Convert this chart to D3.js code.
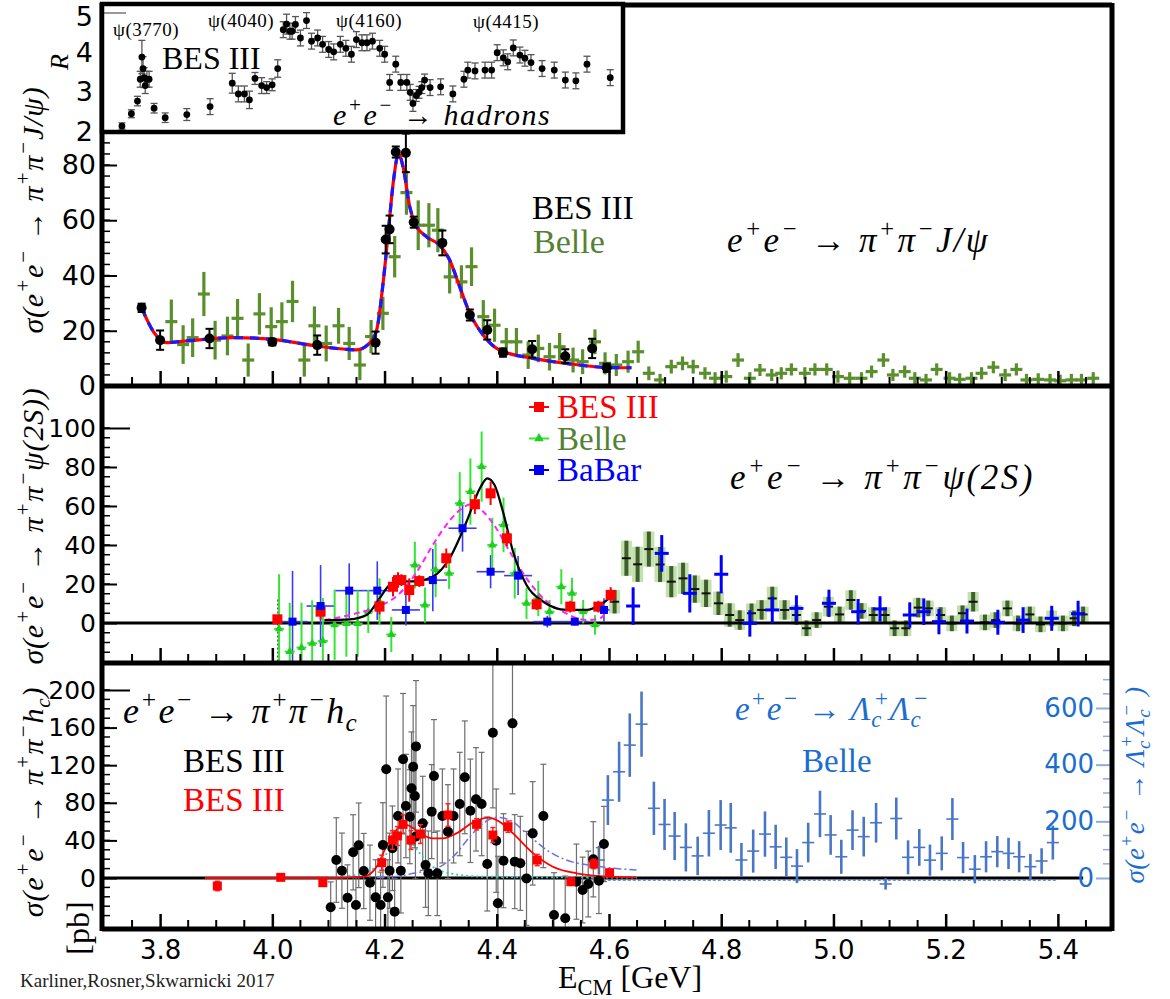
<!DOCTYPE html>
<html>
<head>
<meta charset="utf-8">
<script src="https://cdnjs.cloudflare.com/ajax/libs/d3/7.8.5/d3.min.js"></script>
<style>body{margin:0;background:#fff}</style>
</head>
<body>
<script>
const width = 1170;
const height = 999;

// ---------- data ----------
// inset: R ratio, BES III
const rE = [3.736,3.753,3.764,3.769,3.772,3.774,3.776,3.778,3.781,3.785,
  3.794,3.814,3.853,3.895,3.935,3.946,3.957,3.966,3.976,3.988,
  3.997,4.007,4.017,4.027,4.033,4.039,4.043,4.049,4.058,4.069,
  4.078,4.089,4.098,4.109,4.118,4.130,4.140,4.150,4.159,4.169,
  4.178,4.188,4.201,4.210,4.219,4.230,4.239,4.250,4.256,4.261,
  4.267,4.272,4.277,4.282,4.292,4.311,4.333,4.353,4.360,4.373,
  4.391,4.403,4.413,4.424,4.432,4.442,4.454,4.463,4.474,4.494,
  4.516,4.536,4.555,4.575,4.617];
const rVal = [2.15,2.46,2.78,3.33,3.89,3.60,3.37,3.17,3.33,3.33,
  2.60,2.36,2.44,2.64,3.23,2.96,2.96,2.81,3.35,3.17,
  3.12,3.19,3.60,4.58,4.72,4.54,4.54,4.71,4.37,4.81,
  4.29,4.37,4.21,4.08,4.02,4.21,4.11,3.96,4.33,4.25,
  4.25,4.29,4.11,3.96,3.25,3.71,3.25,3.25,3.00,2.72,
  2.92,3.00,3.12,3.31,3.12,3.14,2.96,3.33,3.56,3.54,
  3.56,3.56,4.00,3.87,3.77,4.12,3.94,3.86,3.75,3.60,
  3.56,3.31,3.29,3.71,3.37];
const rErr = [0.08,0.10,0.12,0.20,0.42,0.30,0.25,0.20,0.20,0.20,
  0.12,0.12,0.15,0.20,0.25,0.20,0.20,0.22,0.15,0.20,
  0.15,0.15,0.22,0.20,0.25,0.20,0.20,0.20,0.20,0.20,
  0.20,0.20,0.20,0.20,0.20,0.20,0.20,0.20,0.20,0.20,
  0.20,0.20,0.20,0.20,0.20,0.20,0.20,0.20,0.20,0.20,
  0.15,0.15,0.15,0.15,0.20,0.20,0.20,0.20,0.20,0.20,
  0.20,0.20,0.20,0.20,0.20,0.20,0.20,0.20,0.20,0.20,
  0.20,0.20,0.20,0.20,0.20];
const resonanceNames = ['ψ(3770)', 'ψ(4040)', 'ψ(4160)', 'ψ(4415)'];
const resonancePos = [[113, 36], [208, 27], [336, 27], [473, 28]];

// panel 1: pi+ pi- J/psi
const jpsiBesE = [3.767,3.800,3.888,4.000,4.080,4.184,4.202,4.209,4.220,4.238,4.252,4.303,4.352,4.383,4.411,4.463,4.522,4.570,4.596];
const jpsiBesS = [28.3,16.6,17.2,15.9,14.8,15.7,53.0,56.7,84.7,84.4,59.3,51.8,25.7,20.3,12.1,13.3,10.8,13.6,6.6];
const jpsiBesErr = [1.5,3.5,3.5,1.2,3.5,4,5,5,2,7,2,4.5,2,3.5,1.5,3,2.5,3.5,1.5];
const jpsiBelleE = [3.820,3.841,3.858,3.878,3.898,3.920,3.938,3.957,3.977,3.998,
  4.017,4.036,4.057,4.075,4.096,4.118,4.137,4.156,4.176,4.197,
  4.218,4.239,4.260,4.279,4.295,4.316,4.337,4.355,4.376,4.396,
  4.417,4.435,4.456,4.474,4.494,4.512,4.536,4.553,4.575,4.593,
  4.613,4.634,4.652,4.671,4.691,4.711,4.731,4.750,4.771,4.789,
  4.809,4.830,4.851,4.869,4.890,4.907,4.925,4.949,4.967,4.988,
  5.008,5.029,5.050,5.068,5.089,5.106,5.127,5.145,5.165,5.184,
  5.207,5.225,5.246,5.264,5.285,5.306,5.326,5.344,5.365,5.386,
  5.404,5.424,5.442,5.463];
const jpsiBelleS = [23.3,15.0,17.5,33.3,16.6,18.1,24.5,9.4,26.1,21.5,
  23.3,30.6,9.4,21.8,15.4,21.8,15.4,7.6,17.9,26.3,
  46.8,70.0,58.2,58.2,56.4,39.5,37.7,43.2,25.1,22.0,
  16.0,16.0,11.2,13.6,10.6,14.2,9.4,8.8,16.0,8.2,
  7.6,8.8,12.4,4.6,2.2,7.0,8.2,7.0,4.6,2.8,
  3.4,9.4,2.8,5.8,4.0,4.6,6.0,4.6,6.0,6.0,
  3.4,2.8,2.8,5.2,9.4,4.0,5.2,2.8,2.2,6.0,
  2.8,2.4,2.8,4.6,6.8,4.0,6.0,2.2,2.4,2.2,
  1.9,2.2,2.2,2.8];
const jpsiBelleErr = [8,7,7,8,7,7,7,6,7.5,7,
  7,7.5,6,7,6.5,6.5,6,5.5,6,6,
  7.5,8,9,8,8,6,6,7,6,6,
  5,5,5,5,5,5,4.5,4.5,4.5,4,
  4,4,4,2.5,2.2,2.5,2.5,2.5,2.2,2.2,
  2.2,2.5,2.2,2.2,2.2,2.2,2.2,2.2,2.2,2.2,
  2.2,2.2,2.2,2.2,2.5,2.2,2.2,2.2,2.2,2.2,
  2.2,2.2,2.2,2.2,2.2,2.2,2.2,2.2,2.2,2.2,
  2.2,2.2,2.2,2.2];
const jpsiFitE = [3.767,3.790,3.811,3.846,3.930,4.000,4.078,4.150,4.174,4.186,4.198,4.207,4.216,4.225,4.233,4.245,4.254,4.275,4.298,4.316,4.334,4.352,4.376,4.405,4.465,4.524,4.596,4.640];
const jpsiFitS = [28.3,19.1,15.7,16.3,17.5,16.9,14.5,13.1,15.7,20.3,38.4,56.4,74.5,84.0,79.3,64.8,59.0,54.0,51.0,45.6,35.9,26.3,18.4,13.0,10.0,8.2,6.7,6.6];

// panel 2: pi+ pi- psi(2S)
const psiBesE = [4.009,4.086,4.191,4.215,4.224,4.230,4.244,4.262,4.310,4.361,4.389,4.418,4.471,4.531,4.581,4.603];
const psiBesS = [1.9,5.8,8.4,18.6,22.0,22.0,16.9,21.5,33.2,60.9,66.5,43.4,9.6,8.4,8.4,14.4];
const psiBesErr = [2,4,4,5,4,3,6,3,5,5,6,4,3,3,3,4];
const psiBelleE = [4.012,4.031,4.052,4.071,4.090,4.111,4.132,4.152,4.171,4.191,4.212,4.254,4.272,4.291,
  4.315,4.334,4.353,4.373,4.392,4.412,4.432,4.453,4.474,4.494,4.515,4.534,4.554,4.575];
const psiBelleS = [-3,-14.7,-12.6,-10.4,-9.2,-0.9,-0.3,-0.3,5.9,10.9,-5.9,29.7,9.2,27.2,
  25.5,61.4,67.4,80.2,40.0,50.3,25.5,10.1,12.6,5.8,18.6,15.2,5.8,-1.0];
const psiBelleErr = [28,25,23,22,22,18,17,17,11,12,9,12,9,14,
  8,16,17,18,14,14,13,8,9,6,9,8,6,5];
const psiBabarE = [4.036,4.086,4.137,4.187,4.238,4.286,4.339,4.389,4.438,4.490,4.539,4.591];
const psiBabarS = [0.7,8.7,16.6,16.6,6.7,22.0,48.6,26.3,24.3,0.7,0.7,6.7];
const psiBabarErr = [26,21,14,15,8,16,12,8.5,10,3,2,6];
const psiBabarBin = [0.027,0.025,0.025,0.025,0.025,0.025,0.025,0.025,0.025,0.025,0.025,0.01];
const psiBelle2E = [4.610,4.631,4.651,4.671,4.691,4.711,4.732,4.753,4.773,4.795,
  4.815,4.833,4.854,4.872,4.891,4.913,4.934,4.952,4.970,4.991,
  5.011,5.031,5.050,5.071,5.092,5.109,5.129,5.151,5.169,5.191,
  5.211,5.230,5.249,5.270,5.289,5.310,5.329,5.350,5.369,5.389,
  5.409,5.429,5.445];
const psiBelle2S = [10.9,33.2,30.1,37.9,30.0,21.2,22.9,17.4,15.2,10.1,
  4.1,1.5,5.0,6.7,12.6,6.7,4.1,-2.7,1.5,8.4,
  4.4,11.8,6.2,4.1,4.1,-2.7,-2.7,7.9,7.5,4.1,
  -0.2,5.0,10.9,0.3,1.5,7.5,-0.2,4.4,-0.7,2.4,
  -0.2,2.4,4.4];
const psiBelle2Err = [6,9,9,9,9,8,8,7,7,6,
  6,5,5,5,6,5,5,4,4,5,
  4,5,4,4,4,4,4,5,4,4,
  4,4,5,4,4,4,4,4,4,4,
  4,4,4];
const psiBabar2E = [4.643,4.694,4.744,4.800,4.851,4.891,4.934,4.992,5.044,5.083,5.136,5.161,5.188,5.238,5.293,5.338,5.389,5.436];
const psiBabar2S = [8.7,35.7,15.2,25.0,-0.2,6.7,7.5,10.1,5.8,7.2,4.1,5.8,0.7,1.0,0.4,1.5,2.4,4.8];
const psiBabar2Err = [9.6,9.4,9.8,9.8,6.8,6.8,6.7,7,6.5,6.5,6.5,6.8,6.5,6.4,6.4,6.6,6.4,6.6];
const psiFitE = [4.093,4.138,4.168,4.191,4.209,4.227,4.257,4.286,4.316,4.346,4.370,4.383,4.396,4.411,4.429,4.453,4.483,4.524,4.560,4.584,4.604];
const psiFitS = [1.5,1.9,4.1,12.6,19.5,21.2,21.5,23.7,33.2,51.9,69.1,74.2,70.8,57.1,36.6,19.5,10.9,6.7,6.7,9.2,13.5];
const psiFit2E = [4.093,4.138,4.179,4.227,4.257,4.286,4.310,4.334,4.355,4.376,4.399,4.423,4.453,4.483,4.518,4.560,4.584,4.598];
const psiFit2S = [1.5,4.1,7.5,15.2,26.0,40.0,50.3,57.9,60.9,57.1,48.6,36.6,22.9,12.6,5.8,1.5,2.4,7.5];
const psiLegend = ['BES III', 'Belle', 'BaBar'];

// panel 3: pi+ pi- h_c (left axis) and Lambda_c+ Lambda_c- (right axis)
const hcBesE = [4.104,4.114,4.124,4.134,4.144,4.149,4.154,4.163,4.174,4.184,
  4.193,4.197,4.203,4.206,4.209,4.214,4.218,4.224,4.229,4.233,
  4.238,4.245,4.248,4.251,4.254,4.255,4.256,4.268,4.273,4.278,
  4.284,4.288,4.294,4.303,4.313,4.323,4.334,4.343,4.353,4.363,
  4.373,4.383,4.393,4.399,4.402,4.412,4.428,4.432,4.442,4.453,
  4.464,4.483,4.502,4.522,4.542,4.553,4.563,4.572,4.582,4.591];
const hcBesS = [-31.2,19.1,7.8,-21.0,27.3,-28.7,34.8,7.4,-5.0,-20.6,
  -28.7,35.1,115.6,-20.6,7.8,31.6,-35.8,66.0,7.8,126.3,
  76.6,65.2,95.4,118.4,87.2,44.0,140.0,58.2,13.8,5.0,
  70.6,108.5,5.0,66.0,49.3,66.0,78.7,107.1,71.5,83.7,
  78.7,14.9,154.6,39.7,-26.9,18.4,164.5,17.4,15.6,-0.4,
  47.5,66.0,-39.4,-42.9,-3.9,-12.8,-6.4,19.9,-2.8,36.2];
const hcBesErr = [27,45,40,35,40,30,45,40,40,40,
  35,45,78,40,40,45,35,50,45,70,
  55,50,60,65,55,45,70,50,45,45,
  50,60,45,50,50,50,55,60,55,55,
  55,50,80,55,50,50,75,50,50,50,
  55,55,45,45,40,35,35,40,35,40];
const hcRedE = [3.902,4.015,4.090,4.195,4.214,4.223,4.233,4.247,4.264,4.313,4.364,4.393,4.420,4.472,4.532,4.573,4.601];
const hcRedS = [-8.5,0.7,-5.0,16.3,40.4,44.7,57.1,40.4,46.8,67.0,57.1,45.7,54.6,19.1,-3.9,14.9,5.6];
const hcRedErr = [5,3,3,8,10,10,10,10,10,12,6,8,6,6,4,5,4];
const hcFitE = [3.880,4.100,4.162,4.186,4.203,4.221,4.233,4.245,4.263,4.286,4.304,4.328,4.358,4.384,4.405,4.429,4.465,4.500,4.542,4.584,4.649];
const hcFitS = [0,0,1.4,12.0,33.3,51.1,57.4,55.3,47.5,42.2,42.2,47.5,59.2,64.2,59.9,47.5,26.2,12.0,5.0,2.1,0.7];
const hcFit2E = [4.186,4.227,4.251,4.281,4.304,4.328,4.352,4.376,4.399,4.423,4.453,4.489,4.524,4.572,4.649];
const hcFit2S = [0.5,2,5,8.5,13.8,26.2,43.9,58.2,64.5,61.7,47.5,29.8,19.1,13.1,8.5];
const hcFit3E = [4.100,4.140,4.162,4.191,4.209,4.227,4.245,4.263,4.286,4.316,4.376,4.650];
const hcFit3S = [0.5,2.5,4.9,15.6,31.6,52,40.4,26.2,12.0,5.0,1.4,0.5];
const lamE = [4.582,4.598,4.618,4.637,4.658,4.680,4.699,4.717,4.737,4.758,
  4.778,4.799,4.817,4.836,4.857,4.878,4.897,4.916,4.935,4.955,
  4.976,4.995,5.014,5.034,5.054,5.076,5.093,5.112,5.133,5.153,
  5.172,5.193,5.212,5.231,5.252,5.272,5.292,5.312,5.331,5.351,
  5.371,5.391];
const lamS = [63.5,275,375,469,543,246,189,148,108,78,
  158,187,177,63.5,95,155,110,73,42,125,
  226,152,75,169,146,195,-21,210,73,108,
  63,87,208,72,31,75,93,87,75,40,
  60,125];
const lamErr = [50,88,106,112,115,94,90,85,85,68,
  82,88,88,60,76,80,78,70,60,70,
  82,70,60,70,70,70,20,74,60,65,
  55,60,74,55,50,55,55,55,55,45,
  45,60];

// ticks
const xTicks = [3.8,4.0,4.2,4.4,4.6,4.8,5.0,5.2,5.4];
const rTicks = [2,3,4,5];
const jpsiTicks = [0,20,40,60,80];
const psiTicks = [0,20,40,60,80,100];
const hcTicks = [0,40,80,120,160,200];
const lamTicks = [0,200,400,600];

// ---------- layout ----------
const L = 102, R = 1112, T = 5, B1 = 386, B2 = 663, B3 = 929;
const serif = 'Liberation Serif';
const sans = 'DejaVu Sans';
const blueText = '#1b6dcf';

const x = d3.scaleLinear().domain([3.7, 5.5]).range([104, 1114]);
const y1 = d3.scaleLinear().domain([0, 80]).range([386, 165]);
const y2 = d3.scaleLinear().domain([0, 100]).range([623, 428]);
const y3 = d3.scaleLinear().domain([0, 200]).range([878, 690]);
const y3r = d3.scaleLinear().domain([0, 600]).range([878, 708]);
const xi = d3.scaleLinear().domain([3.70, 4.64]).range([102, 623]);
const yi = d3.scaleLinear().domain([2, 5]).range([132, 13]);

const svg = d3.select('body').append('svg')
    .attr('width', width)
    .attr('height', height);
const defs = svg.append('defs');

function clipped(id, x0, y0, x1, y1) {
  defs.append('clipPath').attr('id', id).append('rect')
    .attr('x', x0).attr('y', y0).attr('width', x1 - x0).attr('height', y1 - y0);
  return svg.append('g').attr('clip-path', `url(#${id})`);
}

function rows(E, S, Err, extra) {
  return E.map((e, i) => ({ e, s: S[i], err: Err ? Err[i] : 0, w: extra ? extra[i] : 0 }));
}

// vertical error bars, optional caps
function errBars(g, data, xs, ys, color, w, cap) {
  g.selectAll(null).data(data).join('line')
    .attr('x1', d => xs(d.e)).attr('x2', d => xs(d.e))
    .attr('y1', d => ys(d.s - d.err)).attr('y2', d => ys(d.s + d.err))
    .attr('stroke', color).attr('stroke-width', w);
  if (cap) {
    [-1, 1].forEach(sgn => {
      g.selectAll(null).data(data).join('line')
        .attr('x1', d => xs(d.e) - cap).attr('x2', d => xs(d.e) + cap)
        .attr('y1', d => ys(d.s + sgn * d.err)).attr('y2', d => ys(d.s + sgn * d.err))
        .attr('stroke', color).attr('stroke-width', w);
    });
  }
}

function hBars(g, data, xs, ys, color, w, half) {
  g.selectAll(null).data(data).join('line')
    .attr('x1', d => half ? xs(d.e) - half : xs(d.e - d.w))
    .attr('x2', d => half ? xs(d.e) + half : xs(d.e + d.w))
    .attr('y1', d => ys(d.s)).attr('y2', d => ys(d.s))
    .attr('stroke', color).attr('stroke-width', w);
}

function dots(g, data, xs, ys, r, color) {
  g.selectAll(null).data(data).join('circle')
    .attr('cx', d => xs(d.e)).attr('cy', d => ys(d.s)).attr('r', r).attr('fill', color);
}

function squares(g, data, xs, ys, size, color) {
  g.selectAll(null).data(data).join('rect')
    .attr('x', d => xs(d.e) - size / 2).attr('y', d => ys(d.s) - size / 2)
    .attr('width', size).attr('height', size).attr('fill', color);
}

function curve(g, E, S, ys, color, w, dash) {
  const line = d3.line().x(d => x(d[0])).y(d => ys(d[1])).curve(d3.curveMonotoneX);
  g.append('path').attr('d', line(E.map((e, i) => [e, S[i]])))
    .attr('fill', 'none').attr('stroke', color).attr('stroke-width', w)
    .attr('stroke-dasharray', dash || null);
}

// text with super/subscripts: parts are strings or [text, 'sup'|'sub', dx]
function rich(g, px, py, parts, o) {
  const t = g.append('text').attr('x', px).attr('y', py)
    .attr('font-family', o.font || serif).attr('font-size', o.size)
    .attr('font-style', o.italic ? 'italic' : 'normal')
    .attr('fill', o.color || '#000')
    .attr('letter-spacing', o.ls || 0)
    .attr('text-anchor', o.anchor || 'start');
  if (o.rotate) t.attr('transform', `rotate(-90,${px},${py})`);
  let shift = 0;
  parts.forEach(p => {
    const [s, k, dx] = typeof p === 'string' ? [p, 'n', 0] : p;
    const target = k === 'sup' ? -0.42 * o.size : k === 'sub' ? 0.22 * o.size : 0;
    t.append('tspan').attr('dy', target - shift).attr('dx', dx || 0)
      .attr('font-size', k === 'n' ? o.size : o.size * 0.7).text(s);
    shift = target;
  });
  return t;
}

// ---------- panel 1 ----------
const g1 = clipped('c1', L, T, R, B1);
const belle1 = rows(jpsiBelleE, jpsiBelleS, jpsiBelleErr);
errBars(g1, belle1, x, y1, '#5b8f2e', 3.2);
hBars(g1, belle1, x, y1, '#5b8f2e', 3.2, 6);
curve(g1, jpsiFitE, jpsiFitS, y1, '#ff0000', 3.2);
curve(g1, jpsiFitE, jpsiFitS, y1, '#1a1aff', 3.2, '9,7');
const bes1 = rows(jpsiBesE, jpsiBesS, jpsiBesErr);
errBars(g1, bes1, x, y1, '#000', 2, 4);
dots(g1, bes1, x, y1, 5, '#000');

// ---------- panel 2 ----------
const g2 = clipped('c2', L, B1, R, B2);
g2.append('line').attr('x1', x(4.010)).attr('x2', x(4.010))
  .attr('y1', y2(12)).attr('y2', B2).attr('stroke', '#000').attr('stroke-width', 1.2)
  .attr('stroke-dasharray', '2,2');
const belle2b = rows(psiBelle2E, psiBelle2S, psiBelle2Err);
g2.selectAll(null).data(belle2b).join('line')
  .attr('x1', d => x(d.e)).attr('x2', d => x(d.e))
  .attr('y1', d => y2(d.s - d.err)).attr('y2', d => y2(d.s + d.err))
  .attr('stroke', '#b5d99c').attr('stroke-width', 11).attr('opacity', 0.8);
errBars(g2, belle2b, x, y2, '#3f5f2c', 4);
hBars(g2, belle2b, x, y2, '#111', 2, 4.5);
g2.append('line').attr('x1', L).attr('x2', R).attr('y1', y2(0)).attr('y2', y2(0))
  .attr('stroke', '#000').attr('stroke-width', 3);
const babar2 = rows(psiBabarE, psiBabarS, psiBabarErr, psiBabarBin);
errBars(g2, babar2, x, y2, '#3a3aff', 1.6);
hBars(g2, babar2, x, y2, '#3a3aff', 1.6);
const belleG = rows(psiBelleE, psiBelleS, psiBelleErr);
errBars(g2, belleG, x, y2, '#33e633', 2);
hBars(g2, belleG, x, y2, '#33e633', 2, 5);
g2.selectAll(null).data(belleG).join('path')
  .attr('d', d3.symbol(d3.symbolTriangle, 30))
  .attr('transform', d => `translate(${x(d.e)},${y2(d.s)})`).attr('fill', '#22cc22');
curve(g2, psiFit2E, psiFit2S, y2, '#ff22ff', 2, '6,4');
curve(g2, psiFitE, psiFitS, y2, '#000', 2.2);
const bes2 = rows(psiBesE, psiBesS, psiBesErr);
errBars(g2, bes2, x, y2, '#ff0000', 2);
squares(g2, bes2, x, y2, 10, '#ff0000');
squares(g2, babar2, x, y2, 8, '#0000ee');
const babarR = rows(psiBabar2E, psiBabar2S, psiBabar2Err);
errBars(g2, babarR, x, y2, '#0000ff', 3);
hBars(g2, babarR, x, y2, '#0000ff', 3, 7);

// ---------- panel 3 ----------
const g3 = clipped('c3', L, B2, R, B3);
g3.append('line').attr('x1', L).attr('x2', x(5.445)).attr('y1', y3(0)).attr('y2', y3(0))
  .attr('stroke', '#000').attr('stroke-width', 3);
g3.append('line').attr('x1', x(4.58)).attr('x2', x(5.40)).attr('y1', y3r(0) + 2).attr('y2', y3r(0) + 2)
  .attr('stroke', '#4472c4').attr('stroke-width', 1.5).attr('stroke-dasharray', '3,2');
const lam = rows(lamE, lamS, lamErr);
errBars(g3, lam, x, y3r, '#4a76c6', 2.6);
hBars(g3, lam, x, y3r, '#4a76c6', 1.6, 6);
const bes3 = rows(hcBesE, hcBesS, hcBesErr);
errBars(g3, bes3, x, y3, '#6e6e6e', 1.2, 3);
curve(g3, hcFit3E, hcFit3S, y3, '#33cccc', 2, '2,3');
curve(g3, hcFit2E, hcFit2S, y3, '#7070dd', 1.5, '8,3,2,3');
curve(g3, hcFitE, hcFitS, y3, '#ff0000', 1.8);
dots(g3, bes3, x, y3, 5, '#000');
const red3 = rows(hcRedE, hcRedS, hcRedErr);
errBars(g3, red3, x, y3, '#ff2020', 1.5, 2.5);
squares(g3, red3, x, y3, 9, '#ff0000');

// ---------- axes ----------
function xAxisAt(yb, labels) {
  const ax = d3.axisBottom(x).tickValues(xTicks).tickSize(-15).tickPadding(12)
    .tickFormat(labels ? d3.format('.1f') : '');
  const g = svg.append('g').attr('transform', `translate(0,${yb})`).call(ax);
  g.select('.domain').remove();
  g.selectAll('.tick line').attr('stroke', '#000').attr('stroke-width', 2.5);
  g.selectAll('.tick text').attr('font-family', sans).attr('font-size', 26).attr('fill', '#000');
  svg.append('g').selectAll('line')
    .data(x.ticks(36).filter(v => v > 3.72 && v < 5.48 && !xTicks.some(t => Math.abs(t - v) < 1e-6)))
    .join('line').attr('x1', d => x(d)).attr('x2', d => x(d))
    .attr('y1', yb).attr('y2', yb - 9).attr('stroke', '#000').attr('stroke-width', 2);
}
xAxisAt(B1, false);
xAxisAt(B2, false);
xAxisAt(B3, true);

function yAxisAt(scale, values, minorStep, lo, hi, fontSize, longTop) {
  const ax = d3.axisLeft(scale).tickValues(values).tickSize(-15).tickPadding(6);
  const g = svg.append('g').attr('transform', `translate(${L},0)`).call(ax);
  g.select('.domain').remove();
  g.selectAll('.tick line').attr('stroke', '#000').attr('stroke-width', 2)
    .attr('x2', d => (longTop && d === values[values.length - 1]) ? 28 : 15);
  g.selectAll('.tick text').attr('font-family', sans).attr('font-size', fontSize).attr('fill', '#000');
  svg.append('g').selectAll('line').data(d3.range(lo, hi + 0.001, minorStep))
    .join('line').attr('x1', L).attr('x2', L + 8)
    .attr('y1', d => scale(d)).attr('y2', d => scale(d))
    .attr('stroke', '#000').attr('stroke-width', 1.5);
}
yAxisAt(y1, jpsiTicks, 4, 0, 88, 27, false);
yAxisAt(y2, psiTicks, 5, -15, 100, 25, true);
yAxisAt(y3, hcTicks, 10, -40, 200, 25, true);

// right axis for Lambda_c
const axR = d3.axisLeft(y3r).tickValues(lamTicks).tickSize(15).tickPadding(2);
const gR = svg.append('g').attr('transform', `translate(${R - 1},0)`).call(axR);
gR.select('.domain').remove();
gR.selectAll('.tick line').attr('stroke', '#8faadc').attr('stroke-width', 2);
gR.selectAll('.tick text').attr('font-family', sans).attr('font-size', 26).attr('fill', blueText);
svg.append('g').selectAll('line').data(d3.range(50, 701, 50).filter(v => v % 200 !== 0))
  .join('line').attr('x1', R - 9).attr('x2', R)
  .attr('y1', d => y3r(d)).attr('y2', d => y3r(d))
  .attr('stroke', '#8faadc').attr('stroke-width', 1.5);

// ---------- frame ----------
const frame = svg.append('g').attr('stroke', '#000').attr('stroke-width', 5);
frame.append('line').attr('x1', L).attr('x2', L).attr('y1', T - 2).attr('y2', B3 + 2);
frame.append('line').attr('x1', R).attr('x2', R).attr('y1', T - 2).attr('y2', B3 + 2);
[T, B1, B2, B3].forEach(yy => frame.append('line').attr('x1', L).attr('x2', R).attr('y1', yy).attr('y2', yy));

// ---------- inset ----------
const inset = svg.append('g');
inset.append('rect').attr('x', L).attr('y', 4).attr('width', 623 - L).attr('height', 128)
  .attr('fill', '#fff');
defs.append('clipPath').attr('id', 'ci').append('rect')
  .attr('x', L).attr('y', 4).attr('width', 623 - L).attr('height', 128);
const gi = inset.append('g').attr('clip-path', 'url(#ci)');
const rData = rows(rE, rVal, rErr);
errBars(gi, rData, xi, yi, '#555', 1.3, 3.5);
dots(gi, rData, xi, yi, 3.4, '#000');
gi.append('line').attr('x1', L).attr('x2', L + 24).attr('y1', yi(5)).attr('y2', yi(5))
  .attr('stroke', '#999').attr('stroke-width', 2);
inset.append('rect').attr('x', L).attr('y', 4).attr('width', 623 - L).attr('height', 128)
  .attr('fill', 'none').attr('stroke', '#000').attr('stroke-width', 4.5);
const axI = d3.axisLeft(yi).tickValues(rTicks).tickSize(0).tickPadding(9).tickFormat(d3.format('d'));
const gI = svg.append('g').attr('transform', `translate(${L},0)`).call(axI);
gI.select('.domain').remove();
gI.selectAll('.tick text').attr('font-family', sans).attr('font-size', 27).attr('fill', '#000');
gI.selectAll('.tick').filter(d => d === 5).select('text').attr('dy', '0.45em');
resonanceNames.forEach((n, i) => {
  svg.append('text').attr('x', resonancePos[i][0]).attr('y', resonancePos[i][1])
    .attr('font-family', serif).attr('font-size', 19).attr('letter-spacing', 0.5).text(n);
});
svg.append('text').attr('x', 162).attr('y', 69).attr('font-family', serif).attr('font-size', 32).text('BES III');
rich(svg, 333, 125, ['e', ['+', 'sup'], 'e', ['−', 'sup'], ' → hadrons'], { size: 30, italic: true, ls: 1.5 });
rich(svg, 68, 62, ['R'], { size: 26, italic: true, rotate: true, anchor: 'middle' });

// ---------- labels ----------
svg.append('text').attr('x', 532).attr('y', 219).attr('font-family', serif).attr('font-size', 33).text('BES III');
svg.append('text').attr('x', 533).attr('y', 253).attr('font-family', serif).attr('font-size', 34)
  .attr('fill', '#548235').text('Belle');
rich(svg, 727, 252, ['e', ['+', 'sup'], 'e', ['−', 'sup'], ' → π', ['+', 'sup'], 'π', ['−', 'sup'], 'J/ψ'],
  { size: 35, italic: true, ls: 2.2 });

// panel 2 legend
const legColors = ['#ff0000', '#548235', '#0000ff'];
const legMarks = ['#ff0000', '#33e633', '#0000ee'];
psiLegend.forEach((name, i) => {
  const ly = 407 + i * 31.5;
  svg.append('line').attr('x1', 529).attr('x2', 549).attr('y1', ly).attr('y2', ly)
    .attr('stroke', legMarks[i]).attr('stroke-width', 2);
  if (i === 1) {
    svg.append('path').attr('d', d3.symbol(d3.symbolTriangle, 40))
      .attr('transform', `translate(539,${ly})`).attr('fill', '#22cc22');
  } else {
    svg.append('rect').attr('x', 534).attr('y', ly - 5).attr('width', 10).attr('height', 10)
      .attr('fill', legMarks[i]);
  }
  svg.append('text').attr('x', 557).attr('y', ly + 11).attr('font-family', serif).attr('font-size', 33)
    .attr('fill', legColors[i]).text(name);
});
rich(svg, 730, 489, ['e', ['+', 'sup'], 'e', ['−', 'sup'], ' → π', ['+', 'sup'], 'π', ['−', 'sup'], 'ψ(2S)'],
  { size: 35, italic: true, ls: 2.5 });

// panel 3 labels
rich(svg, 123, 723, ['e', ['+', 'sup'], 'e', ['−', 'sup'], ' → π', ['+', 'sup'], 'π', ['−', 'sup'], 'h', ['c', 'sub']],
  { size: 36, italic: true, ls: 1.2 });
svg.append('text').attr('x', 183).attr('y', 772).attr('font-family', serif).attr('font-size', 33).text('BES III');
svg.append('text').attr('x', 183).attr('y', 811).attr('font-family', serif).attr('font-size', 33)
  .attr('fill', '#ff0000').text('BES III');
rich(svg, 735, 720, ['e', ['+', 'sup'], 'e', ['−', 'sup'], ' → Λ', ['c', 'sub'], ['+', 'sup', -9], 'Λ', ['c', 'sub'], ['−', 'sup', -9]],
  { size: 33, italic: true, color: blueText, ls: 0.8 });
svg.append('text').attr('x', 802).attr('y', 772).attr('font-family', serif).attr('font-size', 33)
  .attr('fill', blueText).text('Belle');

// axis titles
rich(svg, 43, 210, ['σ(e', ['+', 'sup'], 'e', ['−', 'sup'], ' → π', ['+', 'sup'], 'π', ['−', 'sup'], 'J/ψ)'],
  { size: 30, italic: true, rotate: true, anchor: 'middle', ls: 0.8 });
rich(svg, 43, 526, ['σ(e', ['+', 'sup'], 'e', ['−', 'sup'], ' → π', ['+', 'sup'], 'π', ['−', 'sup'], 'ψ(2S))'],
  { size: 30, italic: true, rotate: true, anchor: 'middle', ls: 0.8 });
rich(svg, 43, 802, ['σ(e', ['+', 'sup'], 'e', ['−', 'sup'], ' → π', ['+', 'sup'], 'π', ['−', 'sup'], 'h', ['c', 'sub'], ')'],
  { size: 30, italic: true, rotate: true, anchor: 'middle', ls: 0.8 });
rich(svg, 89, 928, ['[pb]'], { size: 32, rotate: true, anchor: 'middle' });
rich(svg, 1144, 785, ['σ(e', ['+', 'sup'], 'e', ['−', 'sup'], ' → Λ', ['c', 'sub'], ['+', 'sup', -8], 'Λ', ['c', 'sub'], ['−', 'sup', -8], ' )'],
  { size: 27, italic: true, rotate: true, anchor: 'middle', color: blueText, ls: 0.6 });

rich(svg, 558, 988, ['E', ['CM', 'sub'], ' [GeV]'], { size: 32 });
svg.append('text').attr('x', 20).attr('y', 987).attr('font-family', serif).attr('font-size', 19)
  .attr('fill', '#222').text('Karliner,Rosner,Skwarnicki 2017');
</script>
</body>
</html>
